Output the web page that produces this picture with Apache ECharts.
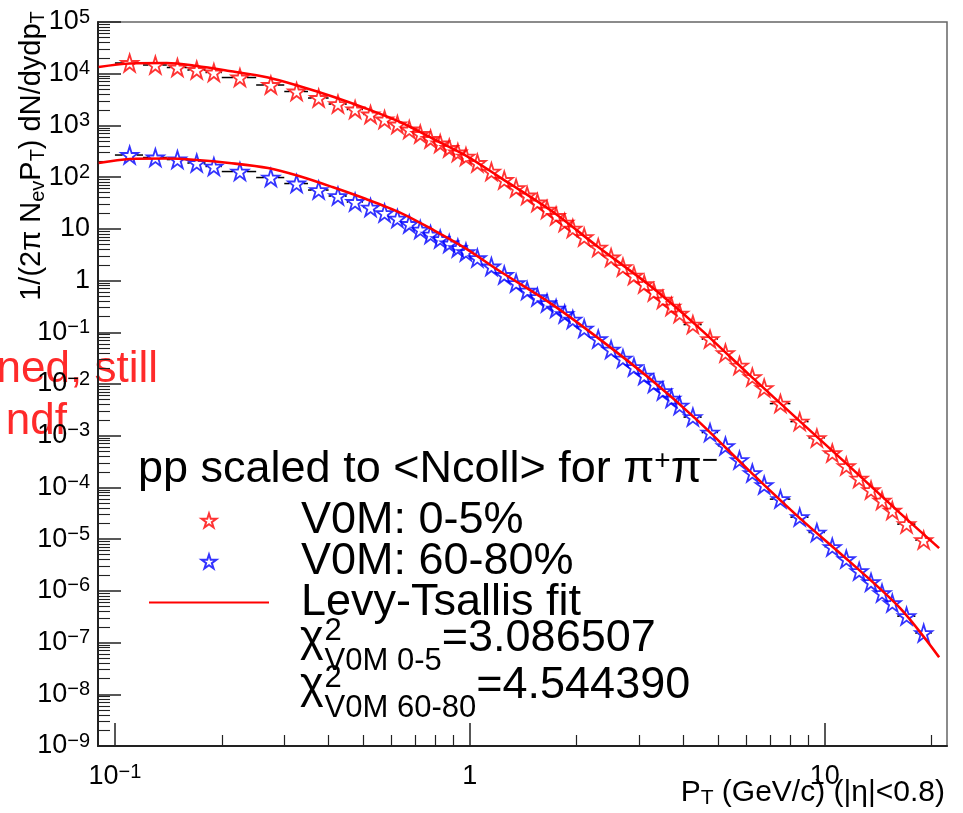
<!DOCTYPE html>
<html>
<head>
<meta charset="utf-8">
<script src="https://cdn.jsdelivr.net/npm/echarts@6.0.0/dist/echarts.min.js"></script>
<style>
html,body{margin:0;padding:0;background:#ffffff;}
#chart{width:963px;height:813px;}
</style>
</head>
<body>
<div id="chart"></div>
<script>
// ---------------- data ----------------
const ptEdges = [0.1,0.12,0.14,0.16,0.18,0.2,0.25,0.3,0.35,0.4,0.45,0.5,0.55,0.6,0.65,0.7,0.75,0.8,0.85,0.9,0.95,1.0,
  1.1,1.2,1.3,1.4,1.5,1.6,1.7,1.8,1.9,2.0,2.2,2.4,2.6,2.8,3.0,3.2,3.4,3.6,3.8,4.0,4.5,5.0,5.5,6.0,6.5,7.0,8,9,10,11,12,13,14,15,16,18,20];
const ptCenters = [0.11,0.13,0.15,0.17,0.19,0.225,0.275,0.325,0.375,0.425,0.475,0.525,0.575,0.625,0.675,0.725,0.775,0.825,0.875,0.925,0.975,
  1.05,1.15,1.25,1.35,1.45,1.55,1.65,1.75,1.85,1.95,2.1,2.3,2.5,2.7,2.9,3.1,3.3,3.5,3.7,3.9,4.25,4.75,5.25,5.75,6.25,6.75,7.5,8.5,9.5,
  10.5,11.5,12.5,13.5,14.5,15.5,17,19];
const yieldV0M0to5 = [16100,14730,13180,11790,10550,8440,6050,4530,3390,2590,2030,1625,1300,1041,833,682,546,447,366,299,250,
  187.5,128.3,87.9,61.5,44.1,32.3,23.6,17.7,13.2,10.1,6.94,4.35,2.79,1.82,1.25,0.856,0.599,0.429,0.314,0.230,
  0.141,0.0739,0.0396,0.0227,0.0136,0.00833,0.00418,0.001874,0.000899,0.000461,0.000258,0.000148,8.87e-5,5.56e-5,3.56e-5,1.95e-5,9.56e-6];
const yieldV0M60to80 = [267.6,239.4,219,187.4,160.3,128.3,98.2,75.2,56.3,43.1,33.0,25.8,20.2,15.8,12.4,9.69,7.76,6.35,5.20,4.25,3.56,
  2.72,1.87,1.28,0.895,0.641,0.480,0.367,0.287,0.225,0.176,0.118,0.0739,0.0463,0.0310,0.0212,0.01454,0.01018,0.00729,0.00522,0.00382,
  0.00229,0.00115,0.000629,0.000337,0.000189,0.000111,5.94e-5,2.66e-5,1.34e-5,7.0e-6,4.10e-6,2.40e-6,1.47e-6,9.03e-7,5.78e-7,3.24e-7,1.52e-7];
const fitPt = [0.09,0.11,0.14,0.17,0.21,0.27,0.33,0.41,0.51,0.64,0.79,0.98,1.2,1.7,2.3,3.2,4.4,6.1,8.5,11.8,16.3,21];
const fitV0M0to5 = [13480,15750,16100,14090,11280,8443,5782,3622,2123,1138,546,256,105,22.1,4.45,0.818,0.126,0.01554,0.001916,0.000247,3.18e-5,6.70e-6];
const fitV0M60to80 = [187.4,223.9,228.9,214.2,187.4,150,105,64.3,37.7,20.2,9.48,4.07,1.60,0.351,0.0772,0.0130,0.001916,0.000216,2.55e-5,3.59e-6,4.63e-7,5.22e-8];

const xRange = [0.0896, 22.1];
const yRange = [1e-9, 1e5];
const xMajorTicks = [0.1, 1, 10];
const xMinorTicks = [0.2,0.3,0.4,0.5,0.6,0.7,0.8,0.9,2,3,4,5,6,7,8,9,20];
const yMajorTicks = [1e-9,1e-8,1e-7,1e-6,1e-5,1e-4,1e-3,1e-2,1e-1,1,10,100,1e3,1e4,1e5];
const minorMultipliers = [2,3,4,5,6,7,8,9];
const seriesNames = ['V0M: 0-5%', 'V0M: 60-80%', 'Levy-Tsallis fit'];
const headerText = 'pp scaled to <Ncoll> for ';
const chiLabels = ['V0M 0-5', 'V0M 60-80'];
const chiValues = ['=3.086507', '=4.544390'];
const leftNoteLines = ['ned, still', 'ndf'];

// ---------------- helpers ----------------
const L = Math.log10;
const FONT = "'Liberation Sans', Arial, Helvetica, sans-serif";
const yMinorTicks = [];
yMajorTicks.slice(0, -1).forEach(d => minorMultipliers.forEach(m => yMinorTicks.push(m * d)));
const mctx = document.createElement('canvas').getContext('2d');
function tw(s, size) { mctx.font = size + 'px ' + FONT; return mctx.measureText(s).width; }
function expLabel(v) {
  const e = Math.round(v);
  if (e === 0) return '{b|1}';
  if (e === 1) return '{b|10}';
  return '{b|10}{s|' + (e < 0 ? '\u2212' + (-e) : String(e)) + '}';
}
const labelRich = {
  b: {fontSize: 27, fontFamily: FONT, color: '#000', lineHeight: 30},
  s: {fontSize: 20, fontFamily: FONT, color: '#000', lineHeight: 18, verticalAlign: 'top'}
};
const STAR = 'path://M50 0 L61.2 34.5 L97.6 34.5 L68.2 55.9 L79.4 90.5 L50 69.1 L20.6 90.5 L31.8 55.9 L2.4 34.5 L38.8 34.5 Z';

function errRows(yields) {
  return ptCenters.map((p, i) => [L(ptEdges[i]), L(ptEdges[i + 1]), L(yields[i]), L(p)]);
}
function errBarItem(params, api) {
  const y = api.value(2);
  const a = api.coord([api.value(0), y]);
  const b = api.coord([api.value(1), y]);
  const c = api.coord([api.value(3), y]);
  const gap = 7;
  const st = {stroke: '#000', lineWidth: 1.5};
  const ch = [];
  if (c[0] - gap > a[0]) ch.push({type: 'line', shape: {x1: a[0], y1: a[1], x2: c[0] - gap, y2: c[1]}, style: st});
  if (b[0] > c[0] + gap) ch.push({type: 'line', shape: {x1: c[0] + gap, y1: c[1], x2: b[0], y2: b[1]}, style: st});
  return {type: 'group', children: ch};
}

// ---------------- text elements ----------------
const LEG = 45, SUB = 31;
const graphics = [];
// y-axis title
graphics.push({
  type: 'text', x: 32, y: 156, rotation: Math.PI / 2, silent: true,
  style: {
    text: '{m|1/(2\u03c0 N}{s|ev}{m|P}{s|T}{m|) dN/dydp}{s|T}',
    rich: {
      m: {fontSize: 29, fontFamily: FONT, color: '#000', lineHeight: 32},
      s: {fontSize: 20, fontFamily: FONT, color: '#000', lineHeight: 20, verticalAlign: 'bottom'}
    },
    align: 'center', verticalAlign: 'middle'
  }
});
// x-axis title
graphics.push({
  type: 'text', x: 945, y: 793, silent: true,
  style: {
    text: '{m|P}{s|T}{m| (GeV/c) (|\u03b7|<0.8)}',
    rich: {
      m: {fontSize: 30, fontFamily: FONT, color: '#000', lineHeight: 32},
      s: {fontSize: 21, fontFamily: FONT, color: '#000', lineHeight: 20, verticalAlign: 'bottom'}
    },
    align: 'right', verticalAlign: 'middle'
  }
});
// legend header
graphics.push({
  type: 'text', x: 138, y: 470, silent: true,
  style: {
    text: '{m|' + headerText + '\u03c0}{p|+}{m|\u03c0}{p|\u2212}',
    rich: {
      m: {fontSize: LEG, fontFamily: FONT, color: '#000', lineHeight: 46},
      p: {fontSize: 28, fontFamily: FONT, color: '#000', lineHeight: 28, verticalAlign: 'top'}
    },
    align: 'left', verticalAlign: 'middle'
  }
});
// chi2 lines
[[639, 0], [686, 1]].forEach(([yc, i]) => {
  const x0 = 300;
  const xs = x0 + tw('\u03c7', LEG) + 1;
  graphics.push({type: 'text', x: x0, y: yc, silent: true,
    style: {text: '\u03c7', fontSize: LEG, fontFamily: FONT, fill: '#000', align: 'left', verticalAlign: 'middle'}});
  graphics.push({type: 'text', x: xs, y: yc - 8, silent: true,
    style: {text: '2', fontSize: SUB, fontFamily: FONT, fill: '#000', align: 'left', verticalAlign: 'middle'}});
  graphics.push({type: 'text', x: xs, y: yc + 22, silent: true,
    style: {text: chiLabels[i], fontSize: SUB, fontFamily: FONT, fill: '#000', align: 'left', verticalAlign: 'middle'}});
  const xe = xs + Math.max(tw('2', SUB), tw(chiLabels[i], SUB));
  graphics.push({type: 'text', x: xe, y: yc, silent: true,
    style: {text: chiValues[i], fontSize: LEG, fontFamily: FONT, fill: '#000', align: 'left', verticalAlign: 'middle'}});
});
// clipped red note on the left edge
graphics.push({type: 'text', x: 158, y: 370, silent: true,
  style: {text: leftNoteLines[0], fontSize: 44, fontFamily: FONT, fill: '#ff2a2a', align: 'right', verticalAlign: 'middle'}});
graphics.push({type: 'text', x: 67, y: 422, silent: true,
  style: {text: leftNoteLines[1], fontSize: 44, fontFamily: FONT, fill: '#ff2a2a', align: 'right', verticalAlign: 'middle'}});

// ---------------- chart ----------------
const chart = echarts.init(document.getElementById('chart'), null, {renderer: 'canvas'});
const axisCommon = {type: 'value', splitLine: {show: false}};
const hiddenIcon = {color: 'rgba(0,0,0,0)', borderColor: 'rgba(0,0,0,0)', borderWidth: 0, opacity: 0};
const option = {
  animation: false,
  backgroundColor: '#ffffff',
  grid: {left: 98, right: 16, top: 22, bottom: 67, show: true, borderColor: '#666', borderWidth: 1.5,
         containLabel: false, outerBoundsMode: 'none'},
  legend: {
    data: [seriesNames[0], seriesNames[1], {name: seriesNames[2], itemStyle: hiddenIcon}],
    orient: 'vertical', left: 148, top: 498, itemWidth: 120, itemHeight: 14, itemGap: -4,
    padding: 0, selectedMode: false,
    textStyle: {fontSize: LEG, fontFamily: FONT, color: '#000', lineHeight: 40, padding: [0, 0, 0, 27]}
  },
  xAxis: [
    Object.assign({}, axisCommon, {
      min: L(xRange[0]), max: L(xRange[1]), position: 'bottom',
      axisLine: {onZero: false, lineStyle: {color: '#222', width: 2}},
      axisTick: {inside: true, length: 23, lineStyle: {color: '#222', width: 1.5}, customValues: xMajorTicks.map(L)},
      axisLabel: {customValues: xMajorTicks.map(L), formatter: expLabel, margin: 16, rich: labelRich}
    }),
    Object.assign({}, axisCommon, {
      min: L(xRange[0]), max: L(xRange[1]), position: 'bottom',
      axisLine: {show: false, onZero: false},
      axisTick: {inside: true, length: 11, lineStyle: {color: '#222', width: 1.2}, customValues: xMinorTicks.map(L)},
      axisLabel: {show: false}
    })
  ],
  yAxis: [
    Object.assign({}, axisCommon, {
      min: L(yRange[0]), max: L(yRange[1]), position: 'left',
      axisLine: {onZero: false, lineStyle: {color: '#222', width: 2}},
      axisTick: {inside: true, length: 23, lineStyle: {color: '#222', width: 1.5}, customValues: yMajorTicks.map(L)},
      axisLabel: {customValues: yMajorTicks.map(L), formatter: expLabel, margin: 8, rich: labelRich}
    }),
    Object.assign({}, axisCommon, {
      min: L(yRange[0]), max: L(yRange[1]), position: 'left',
      axisLine: {show: false, onZero: false},
      axisTick: {inside: true, length: 12, lineStyle: {color: '#222', width: 1.1}, customValues: yMinorTicks.map(L)},
      axisLabel: {show: false}
    })
  ],
  graphic: graphics,
  series: [
    {type: 'custom', name: 'err0to5', renderItem: errBarItem, data: errRows(yieldV0M0to5),
     encode: {x: [0, 1, 3], y: 2}, z: 1, silent: true},
    {type: 'custom', name: 'err60to80', renderItem: errBarItem, data: errRows(yieldV0M60to80),
     encode: {x: [0, 1, 3], y: 2}, z: 1, silent: true},
    {type: 'scatter', name: seriesNames[0], symbol: STAR, symbolSize: 17, z: 3,
     itemStyle: {color: 'rgba(255,255,255,0)', borderColor: '#ff0000', borderWidth: 1.8},
     data: ptCenters.map((p, i) => [L(p), L(yieldV0M0to5[i])])},
    {type: 'scatter', name: seriesNames[1], symbol: STAR, symbolSize: 17, z: 3,
     itemStyle: {color: 'rgba(255,255,255,0)', borderColor: '#0000ff', borderWidth: 1.8},
     data: ptCenters.map((p, i) => [L(p), L(yieldV0M60to80[i])])},
    {type: 'line', name: seriesNames[2], smooth: 0.3, symbol: 'none', showSymbol: false, z: 5,
     lineStyle: {color: '#ff0000', width: 2.6}, itemStyle: {color: '#ff0000'},
     data: fitPt.map((p, i) => [L(p), L(fitV0M0to5[i])])},
    {type: 'line', name: seriesNames[2], smooth: 0.3, symbol: 'none', showSymbol: false, z: 5,
     lineStyle: {color: '#ff0000', width: 2.6}, itemStyle: {color: '#ff0000'},
     data: fitPt.map((p, i) => [L(p), L(fitV0M60to80[i])])}
  ]
};
chart.setOption(option);
</script>
</body>
</html>
